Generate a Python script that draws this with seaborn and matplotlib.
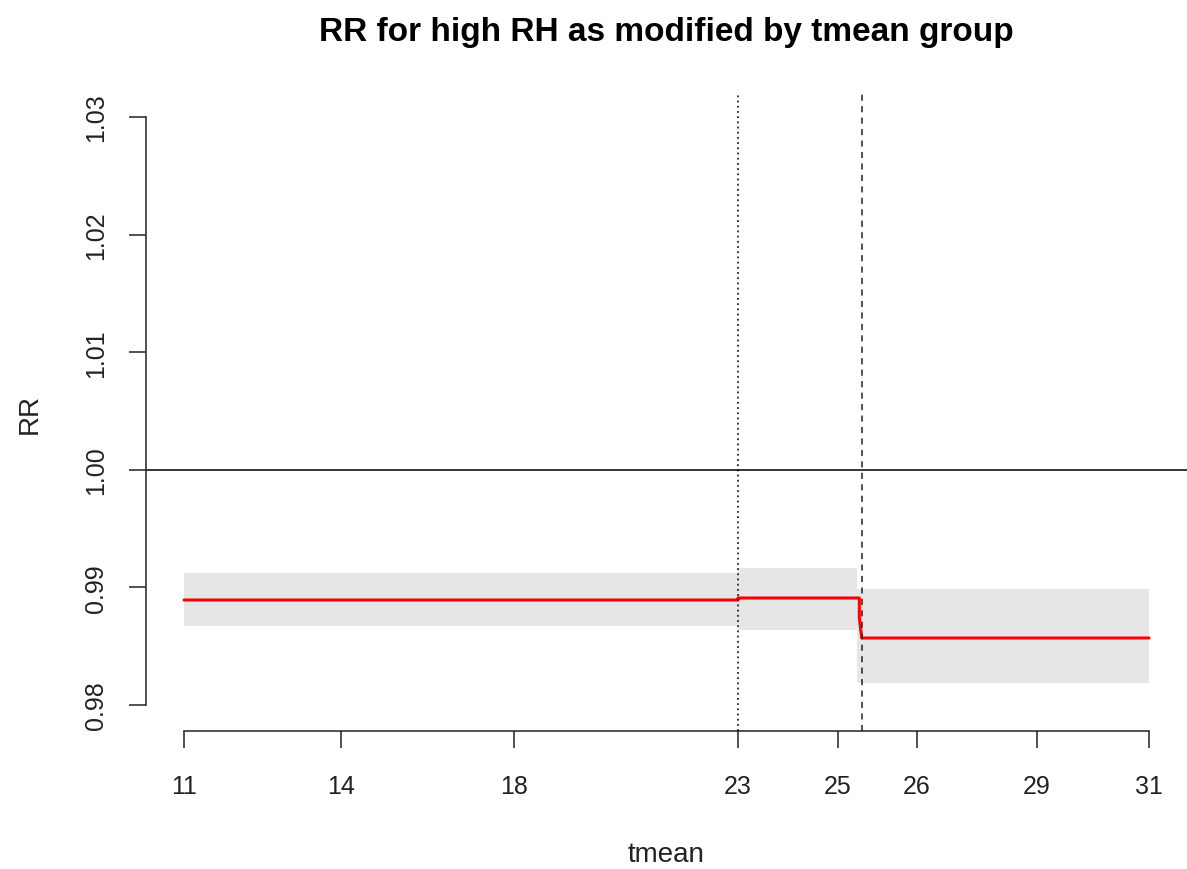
import numpy as np
import matplotlib
matplotlib.use("Agg")
import matplotlib.pyplot as plt
import seaborn as sns
import pandas as pd

# ---- data ----
tick_values = [11, 14, 18, 23, 25, 26, 29, 31]
tick_labels = ["11", "14", "18", "23", "25", "26", "29", "31"]

line_x = [11, 23, 23, 25.24, 25.27, 25.27, 25.30, 31]
line_y = [0.98893, 0.98893, 0.98910, 0.98910, 0.98910, 0.98740, 0.98570, 0.98570]

band1_x = [11, 23]
band1_lo = [0.98672, 0.98672]
band1_hi = [0.99122, 0.99122]
band2_x = [23, 25.24]
band2_lo = [0.98638, 0.98638]
band2_hi = [0.99165, 0.99165]
band3_x = [25.24, 31]
band3_lo = [0.98187, 0.98187]
band3_hi = [0.98986, 0.98986]

ref_rr = 1.0
cut_dotted = 23
cut_dashed = 25.30

y_ticks = [0.98, 0.99, 1.00, 1.01, 1.02, 1.03]
y_tick_labels = ["0.98", "0.99", "1.00", "1.01", "1.02", "1.03"]

# ---- non-linear x scale (quantile-like spacing of the original axis) ----
knot_vals = [10.274, 11, 14, 18, 23, 25, 26, 29, 31, 31.68]
knot_pos = [146, 184, 341, 514, 738, 838, 917, 1037, 1149, 1187]

def fwd(x):
    return np.interp(x, knot_vals, knot_pos)

def inv(p):
    return np.interp(p, knot_pos, knot_vals)

sns.set_theme(style="white")
plt.rcParams['font.family'] = ['Liberation Sans', 'DejaVu Sans']

W, H = 1187, 870
fig = plt.figure(figsize=(W / 100, H / 100), dpi=100)
ax = fig.add_axes([146 / W, 1 - 732 / H, (1187 - 146) / W, (732 - 95) / H])
ax.set_xscale('function', functions=(fwd, inv))

band_col = "#E6E6E6"
for bx, lo, hi in [(band1_x, band1_lo, band1_hi), (band2_x, band2_lo, band2_hi), (band3_x, band3_lo, band3_hi)]:
    ax.fill_between(bx, lo, hi, color=band_col, linewidth=0, zorder=1)

df = pd.DataFrame({"tmean": line_x, "RR": line_y})
sns.lineplot(data=df, x="tmean", y="RR", ax=ax, color="#FF0000", linewidth=2.2,
             estimator=None, sort=False, zorder=3)

ax.axhline(ref_rr, color="black", linewidth=1.1, zorder=2)
ax.axvline(cut_dotted, color="black", linewidth=1.1, linestyle=(0, (1.2, 2.2)), zorder=4)
ax.axvline(cut_dashed, color="#222222", linewidth=1.1, linestyle=(0, (4, 3.5)), zorder=4)

ax.set_xlim(10.274, 31.68)
ax.set_ylim(0.97779, 1.03196)

ax.set_xticks(tick_values)
ax.set_xticklabels(tick_labels)
ax.set_yticks(y_ticks)
ax.set_yticklabels(y_tick_labels)
ax.minorticks_off()

for s in ["top", "right"]:
    ax.spines[s].set_visible(False)
ax.spines['left'].set_bounds(0.98, 1.03)
ax.spines['bottom'].set_bounds(11, 31)
for s in ["left", "bottom"]:
    ax.spines[s].set_color("#222222")
    ax.spines[s].set_linewidth(1.1)

ax.tick_params(axis='both', which='major', direction='out', length=12, width=1.1,
               color="#222222", labelsize=18, labelcolor="#222222",
               bottom=True, left=True)
ax.tick_params(axis='x', pad=19)
ax.tick_params(axis='y', pad=15, labelrotation=90)
for lbl in ax.get_yticklabels():
    lbl.set_va('center')

ax.set_xlabel("tmean", fontsize=20, color="#222222")
ax.set_ylabel("RR", fontsize=20, color="#222222")
ax.xaxis.set_label_coords((666 - 146) / 1041, (732 - 842) / 637)
ax.yaxis.set_label_coords((43 - 146) / 1041, 0.5)

ax.set_title("RR for high RH as modified by tmean group", fontsize=24,
             fontweight='bold', pad=39, color="black")

ax.set_facecolor("white")
ax.grid(False)

fig.savefig("out.png", dpi=100)
